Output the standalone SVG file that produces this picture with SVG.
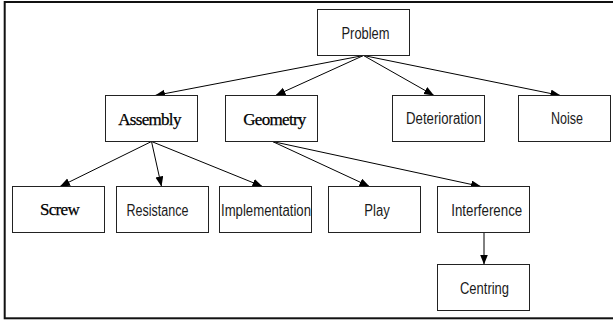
<svg xmlns="http://www.w3.org/2000/svg" width="613" height="320" viewBox="0 0 613 320">
  <style>
    .box { fill: #ffffff; stroke: #222222; stroke-width: 1; }
    .sans { font-family: "Liberation Sans", Arial, sans-serif; font-size: 16px; fill: #1a1a1a; text-anchor: middle; }
    .serif { font-family: "Liberation Serif", "Times New Roman", serif; font-size: 17px; fill: #000000; text-anchor: middle; letter-spacing: -0.7px; stroke: #000000; stroke-width: 0.25; }
    .edge { stroke: #000000; stroke-width: 1; fill: none; marker-end: url(#arrow); }
    .frame { fill: none; stroke: #111111; stroke-width: 2; }
  </style>
  <defs>
    <marker id="arrow" markerUnits="userSpaceOnUse" markerWidth="11" markerHeight="9" refX="10" refY="4" orient="auto">
      <path d="M0,0 L10,4 L0,8 z" fill="#000000"/>
    </marker>
  </defs>
  <rect width="613" height="320" fill="#ffffff"/>
  <rect class="frame" x="4.7" y="2" width="620" height="316.3"/>

  <g id="connectors">
    <line class="edge" x1="363.5" y1="55.5" x2="155" y2="95.5"/>
    <line class="edge" x1="363.5" y1="55.5" x2="275.5" y2="95.5"/>
    <line class="edge" x1="363.5" y1="55.5" x2="434" y2="95.5"/>
    <line class="edge" x1="363.5" y1="55.5" x2="560.5" y2="95.5"/>
    <line class="edge" x1="151.5" y1="141.5" x2="60" y2="186.5"/>
    <line class="edge" x1="151.5" y1="141.5" x2="161.5" y2="186.5"/>
    <line class="edge" x1="151.5" y1="141.5" x2="262.5" y2="186.5"/>
    <line class="edge" x1="272.5" y1="141.5" x2="369.5" y2="186.5"/>
    <line class="edge" x1="272.5" y1="141.5" x2="481" y2="186.5"/>
    <line class="edge" x1="484" y1="232.5" x2="484" y2="264.5"/>
  </g>

  <g id="problem">
    <rect class="box" x="317.5" y="9.5" width="92" height="46"/>
    <text class="sans" x="365.5" y="38.5" textLength="48" lengthAdjust="spacingAndGlyphs">Problem</text>
  </g>
  <g id="assembly">
    <rect class="box" x="105.5" y="95.5" width="92" height="46"/>
    <text class="serif" x="149.5" y="124.5">Assembly</text>
  </g>
  <g id="geometry">
    <rect class="box" x="225.5" y="95.5" width="92" height="46"/>
    <text class="serif" x="274.5" y="124.5">Geometry</text>
  </g>
  <g id="deterioration">
    <rect class="box" x="392.5" y="95.5" width="92" height="46"/>
    <text class="sans" x="443.8" y="124" textLength="75.5" lengthAdjust="spacingAndGlyphs">Deterioration</text>
  </g>
  <g id="noise">
    <rect class="box" x="518.5" y="95.5" width="92" height="46"/>
    <text class="sans" x="567" y="124" textLength="32" lengthAdjust="spacingAndGlyphs">Noise</text>
  </g>
  <g id="screw">
    <rect class="box" x="12.5" y="186.5" width="92" height="46"/>
    <text class="serif" x="59.5" y="215">Screw</text>
  </g>
  <g id="resistance">
    <rect class="box" x="116.5" y="186.5" width="92" height="46"/>
    <text class="sans" x="157.5" y="215.5" textLength="62" lengthAdjust="spacingAndGlyphs">Resistance</text>
  </g>
  <g id="implementation">
    <rect class="box" x="219.5" y="186.5" width="92" height="46"/>
    <text class="sans" x="266" y="215.5" textLength="90" lengthAdjust="spacingAndGlyphs">Implementation</text>
  </g>
  <g id="play">
    <rect class="box" x="328.5" y="186.5" width="92" height="46"/>
    <text class="sans" x="377" y="215.5" textLength="25.5" lengthAdjust="spacingAndGlyphs">Play</text>
  </g>
  <g id="interference">
    <rect class="box" x="437.5" y="186.5" width="92" height="46"/>
    <text class="sans" x="486.7" y="215.5" textLength="71" lengthAdjust="spacingAndGlyphs">Interference</text>
  </g>
  <g id="centring">
    <rect class="box" x="437.5" y="264.5" width="92" height="46"/>
    <text class="sans" x="484.5" y="293.5" textLength="49" lengthAdjust="spacingAndGlyphs">Centring</text>
  </g>
</svg>
